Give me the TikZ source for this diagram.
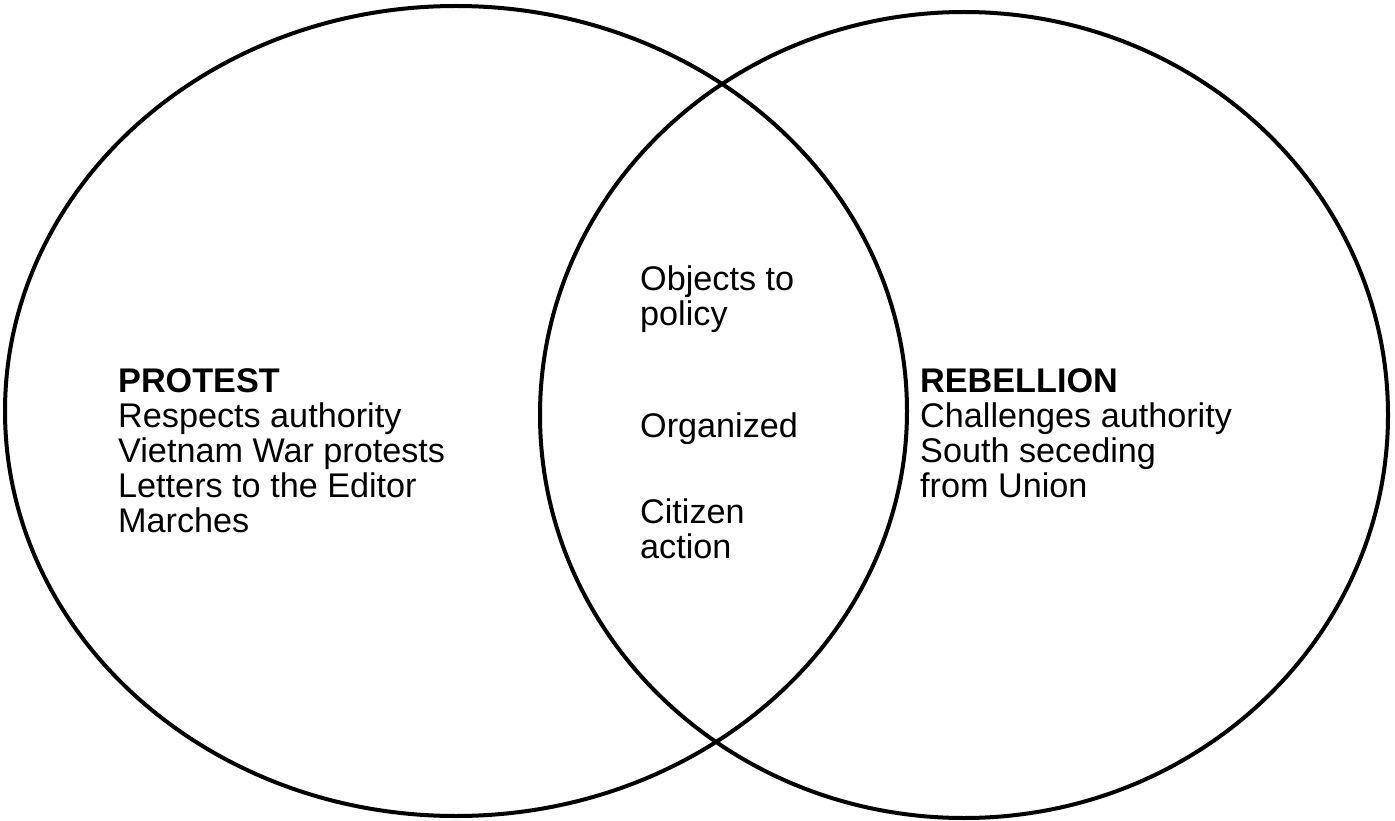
\documentclass[tikz,border=0pt]{standalone}
\usepackage{fontspec}
\setmainfont{Liberation Sans}
\begin{document}
\begin{tikzpicture}[x=1pt,y=-1pt,
  ring/.style={draw=black,line width=4pt},
  txt/.style={inner sep=0pt,align=left,anchor=base west,font=\fontsize{34.2}{35}\selectfont}]
\useasboundingbox (0,0) rectangle (1395,821);
\fill[white] (0,0) rectangle (1395,821);
\draw[ring] (456,411) ellipse [x radius=451, y radius=405];
\draw[ring] (964,415) ellipse [x radius=424, y radius=403];
% base anchor of a multi-line node = baseline of its last line
\node[txt] (protest) at (118,532) {\textbf{PROTEST}\\Respects authority\\Vietnam War protests\\Letters to the Editor\\Marches};
\node[txt] (obj) at (640,325) {Objects to\\policy};
\node[txt] (org) at (640,437) {Organized};
\node[txt] (cit) at (640,558) {Citizen\\action};
\node[txt] (rebel) at (920,497) {\textbf{REBELLION}\\Challenges authority\\South seceding\\from Union};
\end{tikzpicture}
\end{document}
